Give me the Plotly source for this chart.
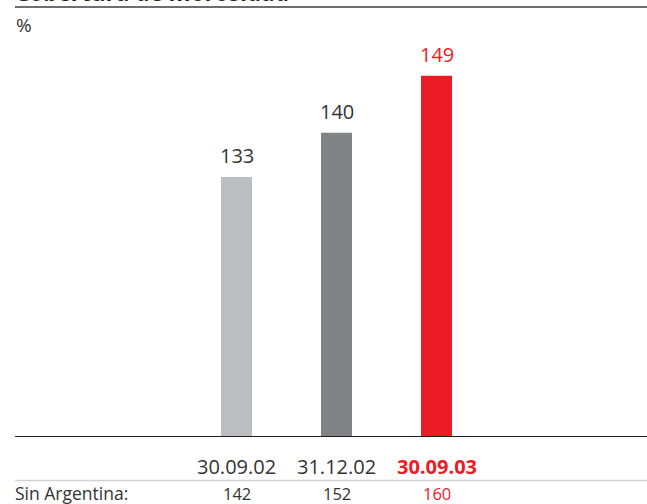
import plotly.graph_objects as go

# Cobertura de morosidad (%)
fechas = ["30.09.02", "31.12.02", "30.09.03"]
cobertura = [133, 140, 149]
sin_argentina = [142, 152, 160]
colores = ["#BCBDC1", "#808285", "#ED1C24"]
texto_color = ["#333333", "#333333", "#ED1C24"]

W, H = 647, 504
L, R, T, B = 15, 0, 40, 68
plot_h = H - T - B
y_min = 92
px_per_unit = 6.32
y_max = y_min + plot_h / px_per_unit


def py(p):
    """pixel row -> paper y"""
    return (H - B - p) / plot_h


FONT = "Open Sans"

fig = go.Figure(
    go.Bar(
        x=fechas,
        y=[v - y_min for v in cobertura],
        base=y_min,
        marker=dict(color=colores, line=dict(width=0)),
        width=0.31,
        hoverinfo="skip",
    )
)

ann = []
for f, v, c in zip(fechas, cobertura, texto_color):
    ann.append(dict(x=f, y=v, xref="x", yref="y", text=str(v), showarrow=False,
                    yanchor="middle", yshift=21,
                    font=dict(family=FONT, size=20, color=c)))

for i, (f, c) in enumerate(zip(fechas, texto_color)):
    txt = f"<b>{f}</b>" if i == len(fechas) - 1 else f
    ann.append(dict(x=f, y=py(466), xref="x", yref="paper", text=txt, showarrow=False,
                    yanchor="middle", font=dict(family=FONT, size=20, color=c)))

for f, v, c in zip(fechas, sin_argentina, texto_color):
    ann.append(dict(x=f, y=py(493.5), xref="x", yref="paper", text=str(v), showarrow=False,
                    yanchor="middle", font=dict(family=FONT, size=16.5, color=c)))

ann.append(dict(x=0, y=py(493.5), xref="paper", yref="paper", text="Sin Argentina:",
                showarrow=False, xanchor="left", yanchor="middle", xshift=-2,
                font=dict(family=FONT, size=17.5, color="#333333")))
ann.append(dict(x=0, y=py(25), xref="paper", yref="paper", text="%",
                showarrow=False, xanchor="left", yanchor="middle", xshift=-1,
                font=dict(family=FONT, size=19, color="#333333")))
ann.append(dict(x=0, y=py(10), xref="paper", yref="paper",
                text="<b>Cobertura de morosidad</b>",
                showarrow=False, xanchor="left", yanchor="bottom", xshift=-2,
                font=dict(family=FONT, size=22.5, color="#231F20")))

shapes = [
    dict(type="line", xref="paper", yref="paper", x0=0, x1=1, y0=py(7), y1=py(7),
         line=dict(color="#6D6E71", width=2)),
    dict(type="line", xref="paper", yref="paper", x0=0, x1=1, y0=py(480.5), y1=py(480.5),
         line=dict(color="#D1D2D4", width=1.5)),
]

fig.update_layout(
    width=W, height=H,
    margin=dict(l=L, r=R, t=T, b=B),
    paper_bgcolor="white", plot_bgcolor="white",
    showlegend=False,
    annotations=ann,
    shapes=shapes,
    xaxis=dict(type="category", range=[(L - 236.5) / 100, (W - R - 236.5) / 100],
               showticklabels=False, ticks="", showgrid=False, zeroline=False,
               showline=True, linecolor="#231F20", linewidth=1, fixedrange=True),
    yaxis=dict(range=[y_min, y_max], visible=False, showgrid=False, fixedrange=True),
)

fig.write_html("out.html")
